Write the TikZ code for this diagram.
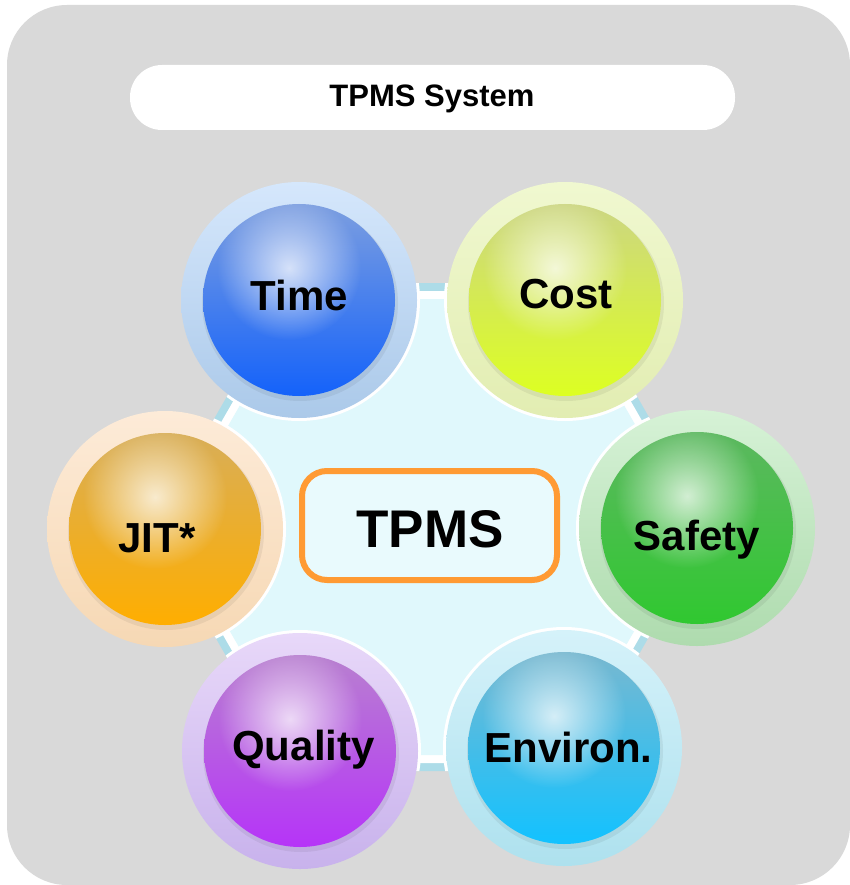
\documentclass[tikz,border=0pt]{standalone}
\usepackage{fontspec}
\setmainfont{Liberation Sans}
\usetikzlibrary{fadings}
\definecolor{bggray}{HTML}{D9D9D9}
\definecolor{hexblue}{HTML}{ADDCE8}
\definecolor{hexcyan}{HTML}{E0F8FC}
\definecolor{tpmsorange}{HTML}{FF9A33}
% halo and ball colours
\definecolor{tiHt}{HTML}{D5E7FC}\definecolor{tiHb}{HTML}{ABC9E9}
\definecolor{tiT}{HTML}{7C9EE0}\definecolor{tiM}{HTML}{92B8FB}\definecolor{tiB}{HTML}{1462FA}
\definecolor{coHt}{HTML}{F0F8D0}\definecolor{coHb}{HTML}{E2EDB2}
\definecolor{coT}{HTML}{CCD682}\definecolor{coM}{HTML}{EEFF88}\definecolor{coB}{HTML}{DDFF22}
\definecolor{jiHt}{HTML}{FDEBD8}\definecolor{jiHb}{HTML}{F6D8B4}
\definecolor{jiT}{HTML}{D8AE58}\definecolor{jiM}{HTML}{FFD468}\definecolor{jiB}{HTML}{FFAE00}
\definecolor{saHt}{HTML}{D6F2D6}\definecolor{saHb}{HTML}{AEDBAE}
\definecolor{saT}{HTML}{5CB860}\definecolor{saM}{HTML}{80E480}\definecolor{saB}{HTML}{30C830}
\definecolor{quHt}{HTML}{E8D8F9}\definecolor{quHb}{HTML}{C8B2EC}
\definecolor{quT}{HTML}{B880D0}\definecolor{quM}{HTML}{E098FF}\definecolor{quB}{HTML}{B634F8}
\definecolor{enHt}{HTML}{D5F2FA}\definecolor{enHb}{HTML}{AEE1EE}
\definecolor{enT}{HTML}{78B8D0}\definecolor{enM}{HTML}{90E2FB}\definecolor{enB}{HTML}{12C2FF}
\tikzfading[name=hlfade, inner color=transparent!25, outer color=transparent!100]
\pgfdeclareradialshading{rimshade}{\pgfpoint{0bp}{-7bp}}{color(0bp)=(pgftransparent!100); color(36bp)=(pgftransparent!100); color(47bp)=(pgftransparent!82); color(57bp)=(pgftransparent!62)}
\pgfdeclarefading{rimfade}{\pgfuseshading{rimshade}}
\newcommand\tpmsball[8]{%
  \shade[top color=#4, bottom color=#5] (#2,#3) circle (118pt);
  \fill[black, opacity=0.06] (#2+1,#3+3) circle (98pt);
  \shade[top color=#6, middle color=#7, bottom color=#8] (#2,#3) circle (96pt);
  \begin{scope}
    \clip (#2,#3) circle (96pt);
    \fill[white, path fading=hlfade] (#2-10,#3-32) circle (72pt);
  \end{scope}
  \fill[black, path fading=rimfade] (#2,#3) circle (96pt);
  \coordinate (#1) at (#2,#3);
}
\tikzset{
  lbl/.style={font=\bfseries\fontsize{42}{48}\selectfont, anchor=base, inner sep=0pt},
}
\begin{document}
\begin{tikzpicture}[x=1pt,y=-1pt]
\useasboundingbox (0,0) rectangle (850,885);
\clip (0,0) rectangle (850,885);
\fill[bggray, rounded corners=60pt] (7,5) rectangle (850,885);
% title
\node[fill=white, rounded corners=32pt, minimum width=605pt, minimum height=65pt, inner sep=0pt] (titlebox) at (432.5,97.5) {};
\node[font=\bfseries\fontsize{31}{36}\selectfont, anchor=base, inner sep=0pt] (title) at (432,107) {TPMS System};
% hexagon
\fill[hexblue] (712,527) -- (572,283) -- (292,283) -- (152,527) -- (292,771) -- (572,771) -- cycle;
\fill[white] (703,527) -- (567.5,291) -- (296.5,291) -- (161,527) -- (296.5,763) -- (567.5,763) -- cycle;
\fill[hexcyan] (694,527) -- (563,299) -- (301,299) -- (170,527) -- (301,755) -- (563,755) -- cycle;
% white edges of the halos, seen only over the hexagon
\begin{scope}
  \clip (712,527) -- (572,283) -- (292,283) -- (152,527) -- (292,771) -- (572,771) -- cycle;
  \foreach \cx/\cy in {299/300, 565/300, 165/529, 697/528, 300/751, 564/748}
    \fill[white] (\cx,\cy) circle (121pt);
\end{scope}
% balls
\tpmsball{time}{299}{300}{tiHt}{tiHb}{tiT}{tiM}{tiB}
\tpmsball{cost}{565}{300}{coHt}{coHb}{coT}{coM}{coB}
\tpmsball{jit}{165}{529}{jiHt}{jiHb}{jiT}{jiM}{jiB}
\tpmsball{safety}{697}{528}{saHt}{saHb}{saT}{saM}{saB}
\tpmsball{quality}{300}{751}{quHt}{quHb}{quT}{quM}{quB}
\tpmsball{environ}{564}{748}{enHt}{enHb}{enT}{enM}{enB}
\node[lbl] (timel) at (299.5,310) {Time};
\node[lbl] (costl) at (566,308) {Cost};
\node[lbl] (jitl) at (157,552) {JIT*};
\node[lbl] (safetyl) at (697,550) {Safety};
\node[lbl] (qualityl) at (303.5,760) {Quality};
\node[lbl] (environl) at (568.5,762) {Environ.};
% centre box
\node[draw=tpmsorange, line width=6pt, rounded corners=25pt, fill=hexcyan!70!white, minimum width=255pt, minimum height=109pt, inner sep=0pt] (tpmsbox) at (429.5,525.5) {};
\node[font=\bfseries\fontsize{53}{60}\selectfont, anchor=base, inner sep=0pt] (tpms) at (430,547) {TPMS};
\end{tikzpicture}
\end{document}
